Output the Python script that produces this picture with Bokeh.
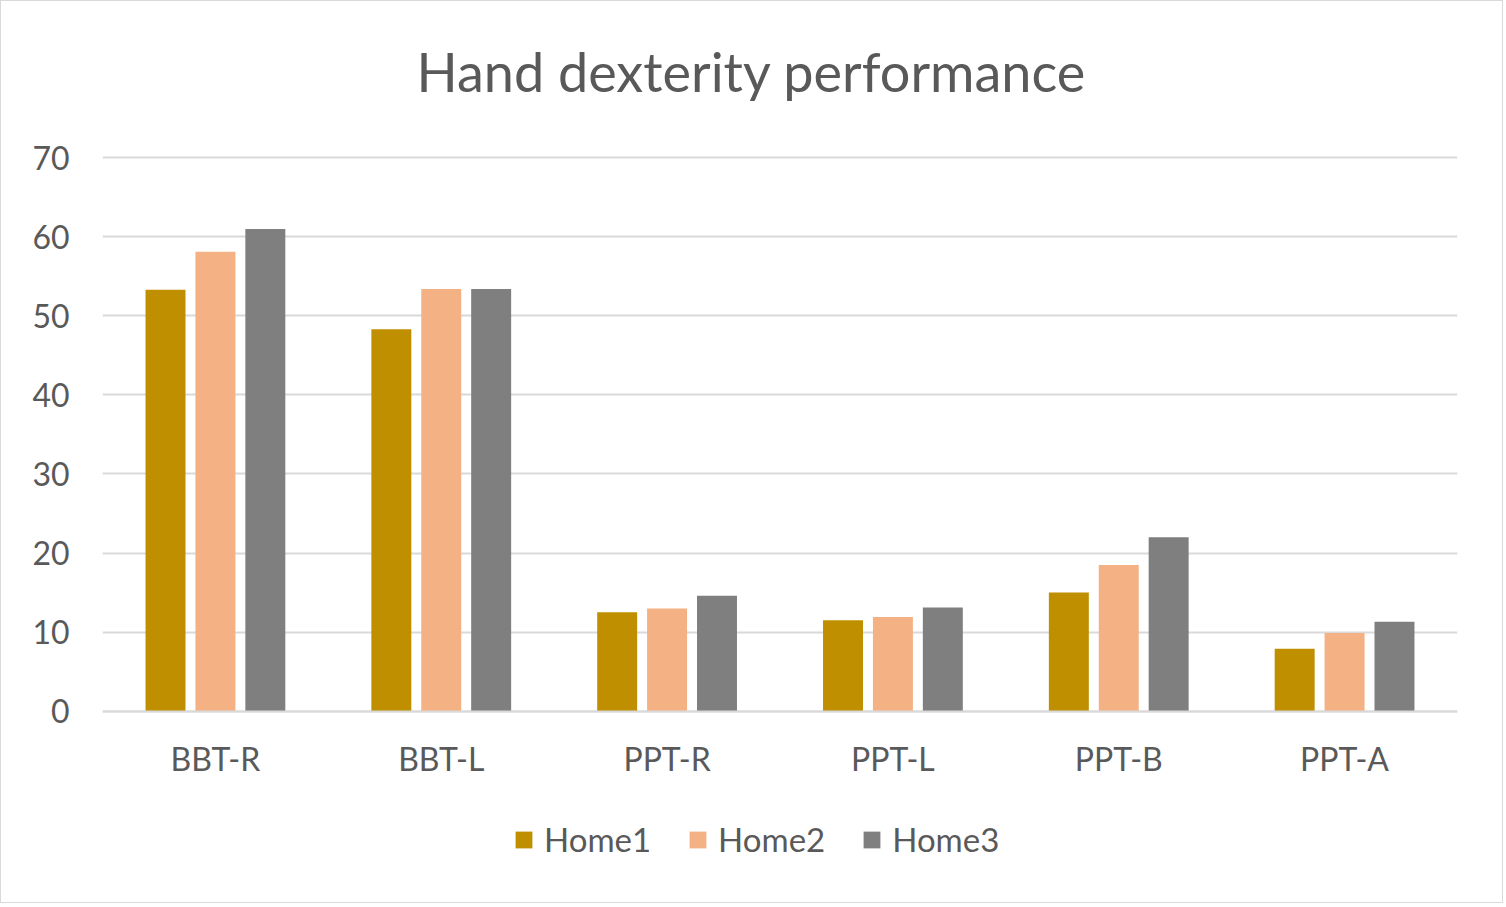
from bokeh.plotting import figure
from bokeh.models import ColumnDataSource, FactorRange, Legend, LegendItem, FixedTicker, Title
from bokeh.transform import dodge
from bokeh.embed import file_html
from bokeh.resources import INLINE

categories = ["BBT-R", "BBT-L", "PPT-R", "PPT-L", "PPT-B", "PPT-A"]
home1 = [53.3, 48.3, 12.5, 11.5, 15.0, 7.9]
home2 = [58.1, 53.4, 13.0, 11.9, 18.5, 9.9]
home3 = [61.0, 53.4, 14.6, 13.1, 22.0, 11.3]
series_names = ["Home1", "Home2", "Home3"]
colors = ["#BF8F00", "#F4B183", "#7F7F7F"]
y_ticks = [0, 10, 20, 30, 40, 50, 60, 70]

FONT = "Lato"
TXT = "#595959"

source = ColumnDataSource(dict(cat=categories, Home1=home1, Home2=home2, Home3=home3))

p = figure(
    x_range=FactorRange(*categories, range_padding=0),
    y_range=(-24.20, 72.56),
    frame_width=1355, frame_height=765,
    output_backend="svg", toolbar_location=None,
    min_border_left=101, min_border_right=45, min_border_top=136, min_border_bottom=0,
)
p.styles = {"border": "1px solid #D9D9D9"}
p.outline_line_color = None
p.background_fill_color = "white"
p.border_fill_color = "white"

offsets = [-0.221, 0.0, 0.221]
renderers = []
for name, col, off in zip(series_names, colors, offsets):
    r = p.vbar(x=dodge("cat", off, range=p.x_range), top=name, width=0.177,
               source=source, fill_color=col, line_color=None)
    renderers.append(r)

p.title = None
t = Title(text="Hand dexterity performance", align="left",
          text_font=FONT, text_font_size="54px", text_color=TXT,
          text_font_style="normal", standoff=68, offset=314)
p.add_layout(t, "above")

p.xgrid.grid_line_color = None
p.ygrid.grid_line_color = "#D9D9D9"
p.ygrid.grid_line_width = 2
p.yaxis.ticker = FixedTicker(ticks=y_ticks)
p.ygrid.ticker = FixedTicker(ticks=y_ticks)

p.yaxis.axis_line_color = None
p.yaxis.major_tick_line_color = None
p.yaxis.minor_tick_line_color = None
p.yaxis.major_label_text_font = FONT
p.yaxis.major_label_text_font_size = "32px"
p.yaxis.major_label_text_color = TXT
p.yaxis.major_label_standoff = 27

p.xaxis.fixed_location = 0
p.xaxis.axis_line_color = "#D9D9D9"
p.xaxis.axis_line_width = 2
p.xaxis.major_tick_line_color = None
p.xaxis.minor_tick_line_color = None
p.xaxis.major_label_text_font = FONT
p.xaxis.major_label_text_font_size = "32px"
p.xaxis.major_label_text_color = TXT
p.xaxis.major_label_standoff = 22

legend = Legend(
    items=[LegendItem(label=n, renderers=[r]) for n, r in zip(series_names, renderers)],
    orientation="horizontal", location=(411, 43),
    label_text_font=FONT, label_text_font_size="33px", label_text_color=TXT,
    glyph_width=21, glyph_height=21, label_standoff=10, spacing=36,
    border_line_color=None, background_fill_alpha=0, margin=0, padding=8,
)
p.add_layout(legend)

open("out.html", "w").write(file_html(p, INLINE))
